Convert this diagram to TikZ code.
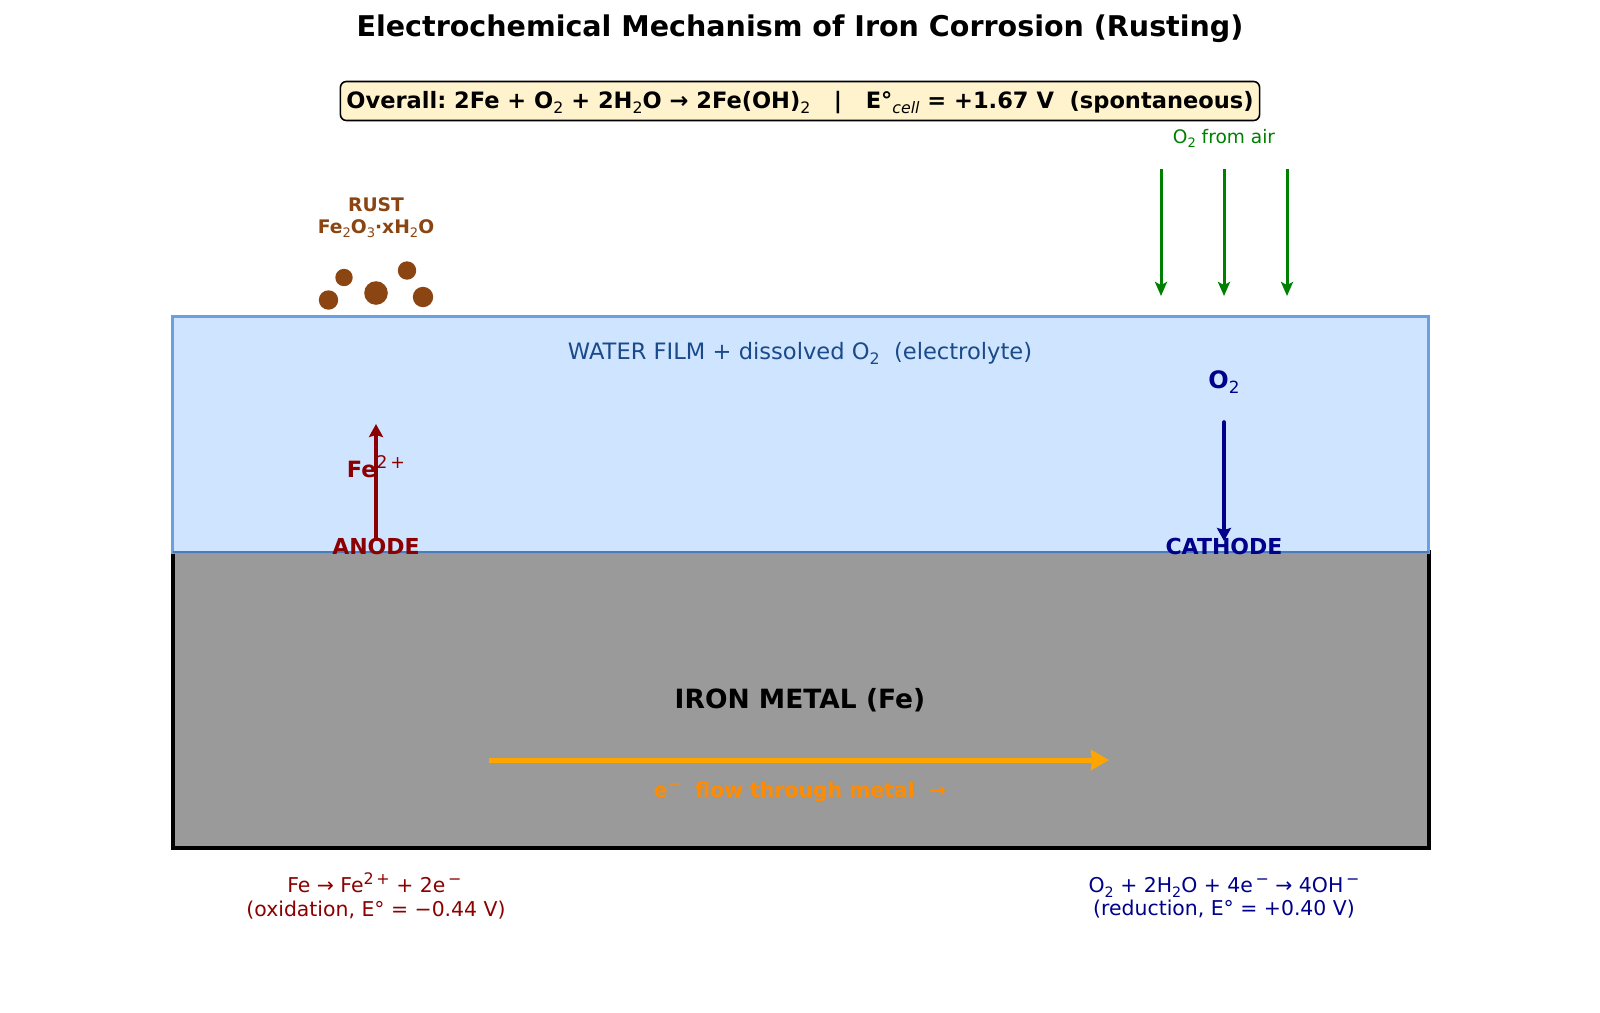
\documentclass[tikz,border=0pt]{standalone}
\usepackage{fontspec}
\usepackage{graphicx}
\setmainfont{DejaVu Sans}
\usetikzlibrary{arrows.meta}
\definecolor{waterfill}{HTML}{CFE5FF}
\definecolor{waterline}{HTML}{6C9EE0}
\definecolor{waterfloor}{HTML}{4A7CBC}
\definecolor{ironfill}{HTML}{9A9A9A}
\definecolor{rust}{HTML}{8B4513}
\definecolor{anodered}{HTML}{8B0000}
\definecolor{cathodeblue}{HTML}{00008B}
\definecolor{airgreen}{HTML}{008000}
\definecolor{flowline}{HTML}{FFA500}
\definecolor{flowtext}{HTML}{FF8C00}
\definecolor{filmtext}{HTML}{1A4A8A}
\definecolor{notefill}{HTML}{FFF3CD}
\frenchspacing
% subscript and superscript set in the regular weight, as chemical formulae want
\newcommand{\dn}[1]{\raisebox{-0.22em}{\mdseries\scalebox{0.7}{#1}}}
\newcommand{\up}[1]{\raisebox{0.4em}{\mdseries\scalebox{0.78}{#1}}}
\newcommand{\fs}[1]{\fontsize{#1}{#1}\selectfont}
\tikzset{
  x=0.5pt, y=-0.5pt,
  lbl/.style={inner sep=0pt, align=center, anchor=center},
  slab/.style={inner sep=0pt, outer sep=0pt, minimum width=1256*0.5pt, anchor=north west},
  airarrow/.style={draw=airgreen, line width=1.5pt, -{Stealth[length=7pt,width=6pt,inset=1.5pt]}},
  ionarrow/.style={line width=1.8pt, -{Stealth[length=6.5pt,width=7pt,inset=1pt]}},
  grain/.style={circle, fill=rust, inner sep=0pt}
}
\begin{document}
\begin{tikzpicture}
\useasboundingbox (0,0) rectangle (1600,1012);
\fill[white] (0,0) rectangle (1600,1012);

% metal block and the water film resting on it
\node[slab, draw=black, line width=2pt, fill=ironfill, minimum height=296*0.5pt] (iron) at (172.5,552) {};
\node[slab, draw=waterline, line width=1.5pt, fill=waterfill, minimum height=236*0.5pt] (film) at (172.5,316) {};
\draw[waterfloor, line width=1.2pt] (film.south west) -- (film.south east);

% headings
\node[lbl, font=\bfseries\fs{14.27}] (title) at (800,28.5) {Electrochemical Mechanism of Iron Corrosion (Rusting)};
\node[draw=black, line width=0.8pt, rounded corners=3pt, fill=notefill, inner xsep=3pt, inner ysep=0pt, minimum height=19.5pt, text height=9.5pt, text depth=2pt, font=\bfseries\fs{11.27}] (overall) at (800,101)
  {Overall: 2Fe + O\dn{2} + 2H\dn{2}O → 2Fe(OH)\dn{2}\ \ \ |\ \ \ E°\dn{\itshape cell} = +1.67 V\ \ (spontaneous)};

% rust deposit
\node[lbl, text=rust, font=\bfseries\fs{9.35}, align=center] (rustlabel) at (376,218) {RUST\\[1.7pt]Fe\dn{2}O\dn{3}·xH\dn{2}O};
\node[grain, minimum size=9.7pt] (g1) at (328.5,300) {};
\node[grain, minimum size=8.7pt] (g2) at (344,277.5) {};
\node[grain, minimum size=11.8pt] (g3) at (376,293) {};
\node[grain, minimum size=9.2pt] (g4) at (407,270.5) {};
\node[grain, minimum size=10.2pt] (g5) at (423,297) {};

% oxygen arriving from the air
\node[lbl, text=airgreen, font=\fs{9.3}] (airlabel) at (1224,138.5) {O\dn{2} from air};
\coordinate (a1s) at (1161,169); \coordinate (a1e) at (1161,296);
\coordinate (a2s) at (1224,169); \coordinate (a2e) at (1224,296);
\coordinate (a3s) at (1287,169); \coordinate (a3e) at (1287,296);
\draw[airarrow] (a1s) -- (a1e);
\draw[airarrow] (a2s) -- (a2e);
\draw[airarrow] (a3s) -- (a3e);

% text inside the film
\node[lbl, text=filmtext, font=\fs{11.3}] (filmlabel) at (800,353.5) {WATER FILM + dissolved O\dn{2}\ \ (electrolyte)};
\node[lbl, text=cathodeblue, font=\bfseries\fs{12}] (o2) at (1224,382) {O\dn{2}};
\node[lbl, text=anodered, font=\bfseries\fs{11.2}] (fe) at (376,467) {Fe\up{2\,+}};
\node[lbl, text=anodered, font=\bfseries\fs{11}] (anode) at (376,546) {ANODE};
\node[lbl, text=cathodeblue, font=\bfseries\fs{11}] (cathode) at (1224,546) {CATHODE};

% ion and oxygen transport
\coordinate (upstart) at (376,541); \coordinate (uptip) at (376,424);
\coordinate (downstart) at (1224,422); \coordinate (downtip) at (1224,541);
\draw[ionarrow, anodered] (upstart) -- (uptip);
\draw[ionarrow, cathodeblue, line cap=round] (downstart) -- (downtip);

% electron flow through the metal
\node[lbl, font=\bfseries\fs{13.25}] (ironlabel) at (800,700) {IRON METAL (Fe)};
\coordinate (flowstart) at (489,760); \coordinate (flowtip) at (1109,760);
\draw[flowline, line width=2.5pt, -{Stealth[length=9pt,width=10pt,inset=0.5pt]}] (flowstart) -- (flowtip);
\node[lbl, text=flowtext, font=\bfseries\fs{10.2}] (flowlabel) at (800,792) {e\up{−}\ \ flow through metal\ \ →};

% half reactions
\node[lbl, text=anodered, font=\fs{10.2}, align=center] (anodehalf) at (376,896) {Fe → Fe\up{2\,+} + 2e\up{\,−}\,\\[1.5pt](oxidation, E° = −0.44 V)};
\node[lbl, text=cathodeblue, font=\fs{10.2}, align=center] (cathodehalf) at (1224,898) {O\dn{2} + 2H\dn{2}O + 4e\up{\,−} → 4OH\up{\,−}\\[1.5pt](reduction, E° = +0.40 V)};
\end{tikzpicture}
\end{document}
